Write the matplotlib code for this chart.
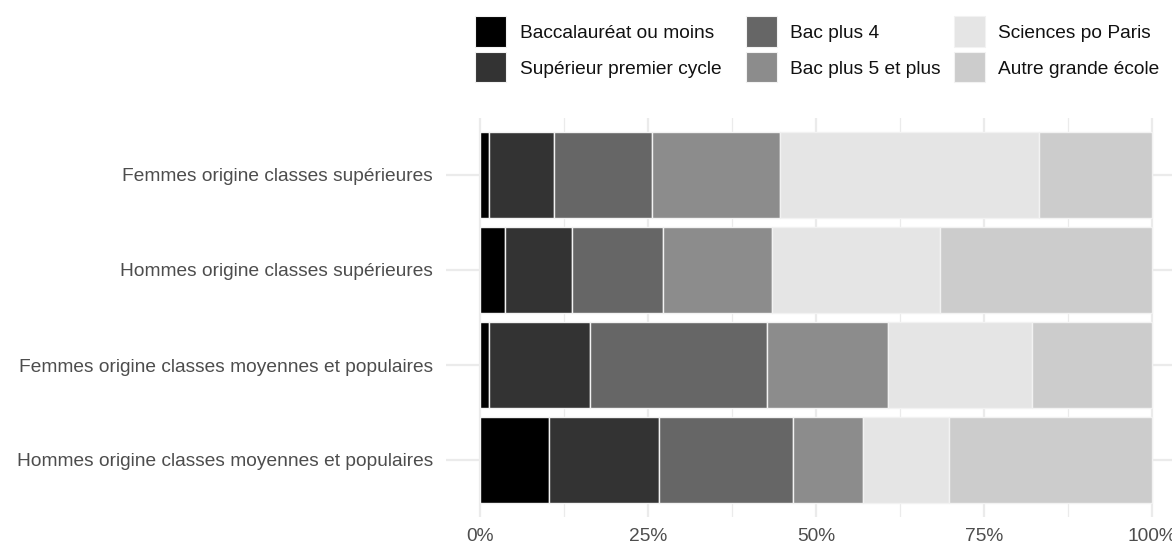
import matplotlib
matplotlib.use("Agg")
import matplotlib.pyplot as plt
from matplotlib.patches import Rectangle
from matplotlib.ticker import FixedLocator
import numpy as np

categories = [
    "Femmes origine classes supérieures",
    "Hommes origine classes supérieures",
    "Femmes origine classes moyennes et populaires",
    "Hommes origine classes moyennes et populaires",
]
levels = [
    "Baccalauréat ou moins",
    "Supérieur premier cycle",
    "Bac plus 4",
    "Bac plus 5 et plus",
    "Sciences po Paris",
    "Autre grande école",
]
# percentage shares per category (rows follow `categories`, columns follow `levels`)
bac_ou_moins = [1.4, 3.7, 1.4, 10.3]
sup_premier_cycle = [9.6, 10.0, 14.9, 16.4]
bac_plus_4 = [14.6, 13.5, 26.4, 19.9]
bac_plus_5 = [19.0, 16.2, 18.0, 10.4]
sciences_po = [38.6, 25.1, 21.4, 12.8]
autre_grande_ecole = [16.8, 31.5, 17.9, 30.2]
x_ticks = [0, 0.25, 0.5, 0.75, 1.0]
x_tick_labels = ["0%", "25%", "50%", "75%", "100%"]

colors = ["#000000", "#333333", "#666666", "#8C8C8C", "#E5E5E5", "#CCCCCC"]

plt.rcParams["font.family"] = ["Liberation Sans", "DejaVu Sans"]
FS = 13.8

W, H = 1172, 545
fig = plt.figure(figsize=(W / 100, H / 100), dpi=100)

def px_x(x):
    return x / W

def px_y(y):
    return 1 - y / H

# axes: panel left 446.4px, 0%->480px, 100%->1152px, xlim -0.05..1.05
left = 446.4
right = 1152 + 0.05 * 672
top, bottom = 118, 517
ax = fig.add_axes([px_x(left), px_y(bottom), (right - left) / W, (bottom - top) / H])

series = [bac_ou_moins, sup_premier_cycle, bac_plus_4, bac_plus_5, sciences_po, autre_grande_ecole]
data = np.array(series, dtype=float)  # levels x categories
data = data / data.sum(axis=0)
n = len(categories)
ypos = np.arange(n, 0, -1)  # first category at top
lefts = np.zeros(n)
for i, lev in enumerate(levels):
    ax.barh(ypos, data[i], left=lefts, height=0.9, color=colors[i],
            edgecolor="#F2F2F2", linewidth=1.0, zorder=3, label=lev)
    lefts += data[i]

ax.set_xlim(-0.05, 1.05)
ax.set_ylim(0.4, n + 0.6)
ax.xaxis.set_major_locator(FixedLocator(x_ticks))
ax.set_xticklabels(x_tick_labels)
ax.xaxis.set_minor_locator(FixedLocator([0.125, 0.375, 0.625, 0.875]))
ax.set_yticks(ypos)
ax.set_yticklabels(categories)

ax.grid(which="major", axis="both", color="#EBEBEB", linewidth=1.6, zorder=0)
ax.grid(which="minor", axis="x", color="#EBEBEB", linewidth=0.9, zorder=0)
for s in ax.spines.values():
    s.set_visible(False)
ax.tick_params(which="both", length=0)
ax.tick_params(axis="x", pad=8, labelsize=FS, labelcolor="#4D4D4D")
ax.tick_params(axis="y", pad=9.5, labelsize=FS, labelcolor="#4D4D4D")
ax.set_facecolor("white")

# manual legend (3 columns x 2 rows, column-wise)
key_x = [475, 746, 954]
text_x = [520, 790, 998]
row_y = [(16, 47), (51.7, 82.3)]
for idx, lev in enumerate(levels):
    c, r = idx // 2, idx % 2
    y0, y1 = row_y[r]
    fig.add_artist(Rectangle((px_x(key_x[c]), px_y(y1)), 31 / W, (y1 - y0) / H,
                             transform=fig.transFigure, facecolor=colors[idx],
                             edgecolor="#F2F2F2", linewidth=0.8))
    fig.text(px_x(text_x[c]), px_y((y0 + y1) / 2), lev, fontsize=FS,
             color="#111111", ha="left", va="center_baseline")

fig.savefig("out.png", dpi=100, facecolor="white")
